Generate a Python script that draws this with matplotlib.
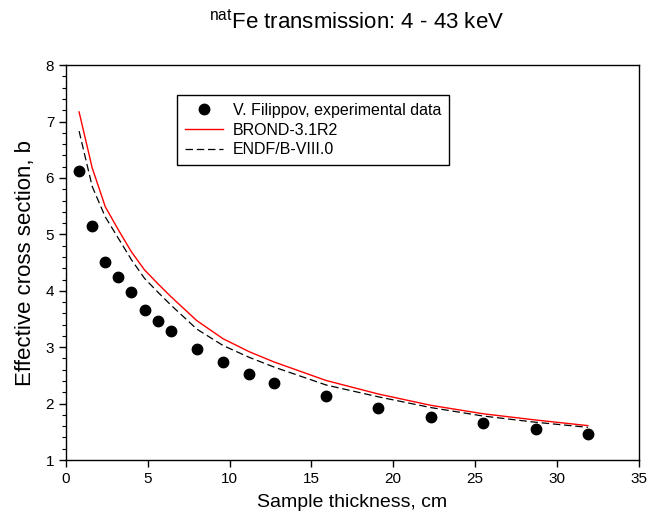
import numpy as np
import matplotlib.pyplot as plt
from matplotlib.ticker import MultipleLocator

plt.rcParams['font.family'] = ['Liberation Sans', 'DejaVu Sans']

# datos
thick = [0.8, 1.6, 2.4, 3.2, 4.0, 4.8, 5.6, 6.4, 8.0, 9.6, 11.2, 12.7,
         15.9, 19.1, 22.3, 25.5, 28.7, 31.9]
exp_sigma = [6.13, 5.14, 4.51, 4.25, 3.98, 3.66, 3.47, 3.29, 2.96, 2.73,
             2.52, 2.37, 2.13, 1.92, 1.77, 1.65, 1.55, 1.47]
brond = [7.17, 6.18, 5.49, 5.08, 4.69, 4.37, 4.13, 3.90, 3.47, 3.15,
         2.92, 2.74, 2.41, 2.17, 1.97, 1.82, 1.71, 1.61]
endf = [6.83, 5.85, 5.31, 4.93, 4.55, 4.22, 3.98, 3.75, 3.32, 3.03,
        2.82, 2.65, 2.33, 2.12, 1.93, 1.78, 1.67, 1.58]

fig = plt.figure(figsize=(6.49, 5.21), dpi=100)
ax = fig.add_axes([0.1017, 0.117, 0.8823, 0.758])

ax.plot(thick, exp_sigma, 'o', color='k', ms=7.5, label='V. Filippov, experimental data')
ax.plot(thick, brond, '-', color='#ff0000', lw=1, label='BROND-3.1R2')
ax.plot(thick, endf, '--', color='k', lw=0.9, dashes=(6, 3), label='ENDF/B-VIII.0')

ax.set_xlim(0, 35)
ax.set_ylim(1, 8)
ax.xaxis.set_major_locator(MultipleLocator(5))
ax.yaxis.set_major_locator(MultipleLocator(1))
ax.yaxis.set_minor_locator(MultipleLocator(0.2))
ax.tick_params(axis='both', which='major', direction='out', length=5, width=1,
               labelsize=11, top=False, right=False)
ax.tick_params(axis='y', which='minor', direction='out', length=3, width=0.8)
for s in ax.spines.values():
    s.set_linewidth(1)

ax.set_xlabel('Sample thickness, cm', fontsize=14, labelpad=6)
ax.set_ylabel('Effective cross section, b', fontsize=16, labelpad=7)
fig.text(0.55, 0.958, r'$^{\mathregular{nat}}$Fe transmission: 4 - 43 keV',
         ha='center', va='center', fontsize=16)

leg = ax.legend(loc='upper left', bbox_to_anchor=(0.194, 0.925), fontsize=11.5,
                frameon=True, fancybox=False, edgecolor='k', framealpha=1,
                borderpad=0.5, handlelength=2.4, handletextpad=0.6,
                labelspacing=0.3, borderaxespad=0)
leg.get_frame().set_linewidth(1)

plt.savefig('out.png', dpi=100)
